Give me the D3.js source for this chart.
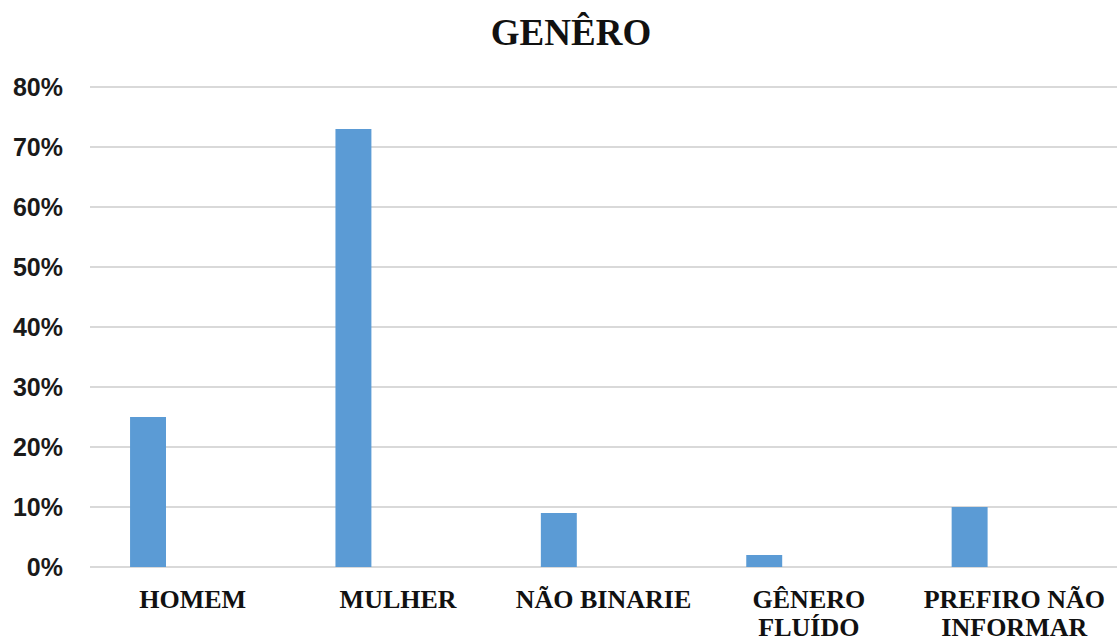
<!DOCTYPE html>
<html>
<head>
<meta charset="utf-8">
<script src="https://cdn.jsdelivr.net/npm/d3@7"></script>
<style>
  body { margin: 0; background: #fff; }
  svg { display: block; }
</style>
</head>
<body>
<svg id="wrapper"></svg>
<script>
//chart data
let categories = ['HOMEM', 'MULHER', 'NÃO BINARIE', 'GÊNERO FLUÍDO', 'PREFIRO NÃO INFORMAR'];
let labelLines = [['HOMEM'], ['MULHER'], ['NÃO BINARIE'], ['GÊNERO', 'FLUÍDO'], ['PREFIRO NÃO', 'INFORMAR']];
let values = [25, 73, 9, 2, 10];
let yTicks = [0, 10, 20, 30, 40, 50, 60, 70, 80];
let title = 'GENÊRO';

let width = 1120, height = 643;
let plotLeft = 90, plotRight = 1117, plotTop = 87, plotBottom = 567;

let svg = d3.select('#wrapper')
  .attr('width', width)
  .attr('height', height);

let xScale = d3.scaleBand()
  .domain(categories)
  .range([plotLeft, plotRight])
  .padding(0);

let yScale = d3.scaleLinear()
  .domain([0, 80])
  .range([plotBottom, plotTop]);

//gridlines
svg.append('g')
  .selectAll('line')
  .data(yTicks)
  .join('line')
  .attr('x1', plotLeft)
  .attr('x2', plotRight)
  .attr('y1', d => yScale(d))
  .attr('y2', d => yScale(d))
  .attr('stroke', '#d9d9d9')
  .attr('stroke-width', 2);

//y labels
svg.append('g')
  .selectAll('text')
  .data(yTicks)
  .join('text')
  .attr('x', 63)
  .attr('y', d => yScale(d) + 9)
  .attr('text-anchor', 'end')
  .attr('font-family', 'Liberation Sans, Arial, sans-serif')
  .attr('font-weight', 'bold')
  .attr('font-size', 25)
  .attr('fill', '#1a1a1a')
  .text(d => d + '%');

//bars, sitting left of the category centre
let bw = xScale.bandwidth();
svg.append('g')
  .selectAll('rect')
  .data(values)
  .join('rect')
  .attr('x', (d, i) => xScale(categories[i]) + bw * 0.195)
  .attr('width', bw * 0.175)
  .attr('y', d => yScale(d))
  .attr('height', d => yScale(0) - yScale(d))
  .attr('fill', '#5b9bd5');

//category labels
let lab = svg.append('g')
  .selectAll('text')
  .data(categories)
  .join('text')
  .attr('text-anchor', 'middle')
  .attr('font-family', 'Liberation Serif, Times New Roman, serif')
  .attr('font-weight', 'bold')
  .attr('font-size', 26)
  .attr('fill', '#111');

lab.each(function(d, i) {
  let cx = xScale(d) + bw / 2;
  d3.select(this).selectAll('tspan')
    .data(labelLines[i])
    .join('tspan')
    .attr('x', cx)
    .attr('y', (t, j) => 608 + j * 28)
    .text(t => t);
});

//title
svg.append('text')
  .attr('x', 571)
  .attr('y', 45)
  .attr('text-anchor', 'middle')
  .attr('font-family', 'Liberation Serif, Times New Roman, serif')
  .attr('font-weight', 'bold')
  .attr('font-size', 37)
  .attr('fill', '#111')
  .text(title);
</script>
</body>
</html>
